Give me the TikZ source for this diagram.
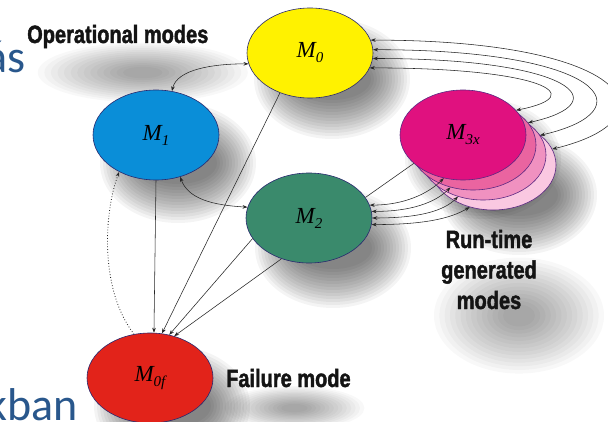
\documentclass[tikz,border=0pt]{standalone}
\usepackage{fontspec}
\usetikzlibrary{shapes.geometric,arrows.meta,calc,backgrounds}
\newfontfamily\impactfont{Liberation Sans Bold}[FakeStretch=0.8,FakeBold=1.6]
\newfontfamily\serifit{Liberation Serif Italic}
\newfontfamily\slidefont{Carlito}
\definecolor{yellowc}{RGB}{255,242,0}
\definecolor{bluec}{RGB}{10,142,216}
\definecolor{greenc}{RGB}{58,138,108}
\definecolor{redc}{RGB}{226,35,26}
\definecolor{magc}{RGB}{224,17,127}
\definecolor{pinktwo}{RGB}{234,100,160}
\definecolor{pinkthree}{RGB}{240,145,192}
\definecolor{pinkfour}{RGB}{250,200,225}
\definecolor{edgec}{RGB}{40,40,110}
\definecolor{purp}{RGB}{90,40,130}
\definecolor{slideblue}{RGB}{41,87,140}
\newcommand{\ml}[1]{{\serifit\fontsize{23}{23}\selectfont M\raisebox{-5pt}{\fontsize{15}{15}\selectfont #1}}}
% soft shadow of an ellipse node
\newcommand{\eshadow}[3]{\foreach \k in {0,...,13}{\fill[black,opacity=0.045] ([shift={(#2,#3)}]#1.center) ellipse [x radius={78pt-3pt*\k}, y radius={60pt-3pt*\k}];}}
% soft shadow of a text node: node, dx, dy, rx, ry
\newcommand{\tshadow}[5]{\foreach \k in {0,...,13}{\fill[black,opacity=0.028] ([shift={(#2,#3)}]#1.center) ellipse [x radius={#4pt*(1-\k/16)}, y radius={#5pt*(1-\k/16)}];}}
\tikzset{
  mode/.style={ellipse, draw=edgec, line width=0.6pt, minimum width=126pt, minimum height=90pt, inner sep=0pt},
  conn/.style={line width=0.55pt, draw=black!85},
  lbl/.style={font=\impactfont\fontsize{25}{30.5}\selectfont, text=black!92},
  >={Stealth[length=5pt,width=3.6pt]}
}
\begin{document}
\begin{tikzpicture}[x=1pt,y=-1pt]
\useasboundingbox (0,0) rectangle (608,422);
\clip (0,0) rectangle (608,422);

% slide text fragments
\node[font=\slidefont\fontsize{46}{46}\selectfont, text=slideblue, anchor=base east, inner sep=0pt] (t1) at (26,73) {ás};
\node[font=\slidefont\fontsize{46}{46}\selectfont, text=slideblue, anchor=base east, inner sep=0pt] (t2) at (78,420) {kban};

% labels
\node[lbl, anchor=base west, inner sep=2pt] (op) at (25,43) {Operational modes};
\node[lbl, anchor=base west, inner sep=2pt] (fm) at (224,387) {Failure mode};
\node[lbl, anchor=base, align=center, inner sep=2pt] (rt) at (489,309) {Run-time\\generated\\modes};

% modes
\node[mode, fill=yellowc] (m0) at (310,53) {\ml{0}};
\node[mode, fill=bluec] (m1) at (156,135) {\ml{1}};
\node[mode, fill=greenc] (m2) at (309,218) {\ml{2}};
\node[mode, fill=redc] (m0f) at (150,378) {\ml{0f}};
\node[mode, fill=pinkfour, draw=purp] (l3) at (493,165) {};
\node[mode, fill=pinkthree, draw=purp] (l2) at (483,155) {};
\node[mode, fill=pinktwo, draw=purp] (l1) at (473,145) {};
\node[mode, fill=magc, draw=purp] (l0) at (463,135) {\ml{3x}};

% shadows
\begin{scope}[on background layer]
\fill[white] (0,0) rectangle (608,422);
\tshadow{op}{25}{36}{105}{30}
\tshadow{fm}{6}{30}{70}{22}
\tshadow{rt}{30}{46}{85}{58}
\eshadow{m0}{22}{26}
\eshadow{m1}{22}{28}
\eshadow{m2}{24}{30}
\eshadow{m0f}{22}{28}
\eshadow{l3}{26}{30}
\eshadow{l1}{10}{14}
\end{scope}

% connectors
\draw[conn, <->] (m1.70) .. controls +(5,-22) and +(-35,0) .. (m0.190);
\draw[conn, <->] (m1.-60) .. controls +(8,22) and +(-35,-2) .. (m2.170);
\draw[conn, ->] (m0.-127) -- (m0f.75);
\draw[conn, ->] (m1.south) -- (m0f.85);
\draw[conn, ->] (m2.-160) -- (m0f.66);
\draw[conn, ->] (m2.-124) -- (m0f.60);
\draw[conn, line width=0.8pt, dotted, ->] (m0f.110) .. controls +(-35,-45) and +(-15,40) .. (m1.-135);

\draw[conn, <->] (m0.-14) .. controls +(170,0) and +(76,-15) .. (l0.25);
\draw[conn, <->] (m0.-5) .. controls +(200,0) and +(90,-20) .. (l1.22);
\draw[conn, <->] (m0.3) .. controls +(230,0) and +(108,-25) .. (l2.19);
\draw[conn, <->] (m0.12) .. controls +(262,0) and +(124,-30) .. (l3.15);

\draw[conn, <->] (m2.12) .. controls +(35,0) and +(-15,15) .. (l0.-114);
\draw[conn, <->] (m2.6) .. controls +(40,0) and +(-15,15) .. (l1.-118);
\draw[conn, <->] (m2.0) .. controls +(45,0) and +(-15,15) .. (l2.-121);
\draw[conn, <->] (m2.-6) .. controls +(50,0) and +(-20,12) .. (l3.-119);
\draw[conn] (m2.20) -- (l0.-150);
\end{tikzpicture}
\end{document}
